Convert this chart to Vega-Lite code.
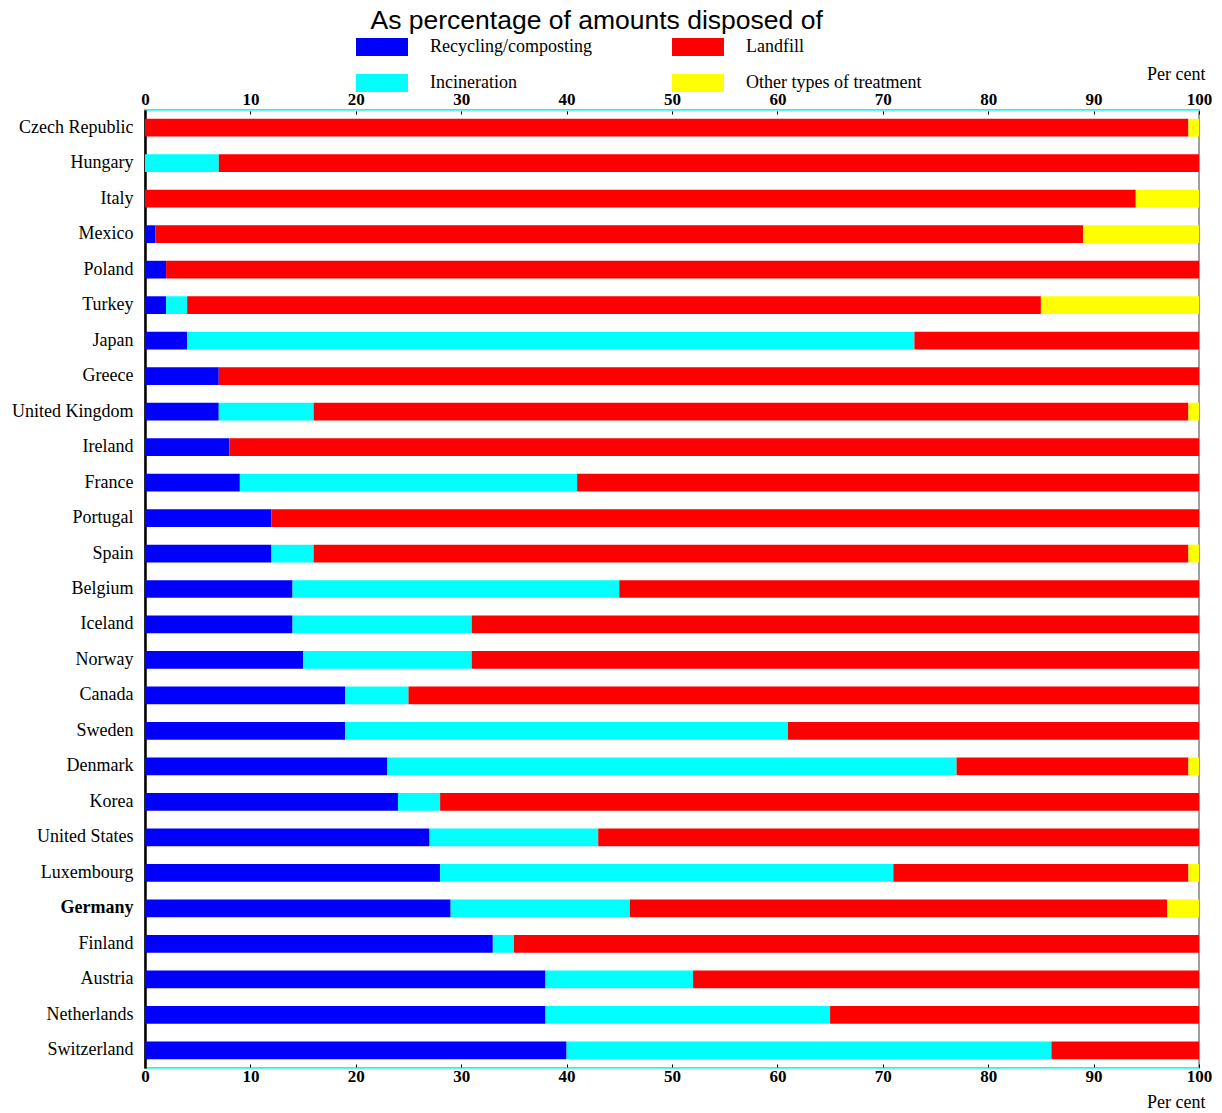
{
  "$schema": "https://vega.github.io/schema/vega-lite/v6.json",
  "autosize": "none",
  "padding": {"left": 145, "top": 110, "right": 23, "bottom": 45},
  "width": 1054,
  "height": 958,
  "background": "white",
  "config": {
    "view": {"stroke": "#808080", "strokeWidth": 1.5},
    "font": "Liberation Serif"
  },
  "title": {
    "text": "As percentage of amounts disposed of",
    "font": "Liberation Sans",
    "fontSize": 26.5,
    "fontWeight": "normal",
    "color": "black",
    "anchor": "start",
    "dx": 359,
    "offset": -13
  },
  "data": {
    "values": [
      {"country": "Czech Republic", "type": "Landfill", "value": 99},
      {"country": "Czech Republic", "type": "Other types of treatment", "value": 1},
      {"country": "Hungary", "type": "Incineration", "value": 7},
      {"country": "Hungary", "type": "Landfill", "value": 93},
      {"country": "Italy", "type": "Landfill", "value": 94},
      {"country": "Italy", "type": "Other types of treatment", "value": 6},
      {"country": "Mexico", "type": "Recycling/composting", "value": 1},
      {"country": "Mexico", "type": "Landfill", "value": 88},
      {"country": "Mexico", "type": "Other types of treatment", "value": 11},
      {"country": "Poland", "type": "Recycling/composting", "value": 2},
      {"country": "Poland", "type": "Landfill", "value": 98},
      {"country": "Turkey", "type": "Recycling/composting", "value": 2},
      {"country": "Turkey", "type": "Incineration", "value": 2},
      {"country": "Turkey", "type": "Landfill", "value": 81},
      {"country": "Turkey", "type": "Other types of treatment", "value": 15},
      {"country": "Japan", "type": "Recycling/composting", "value": 4},
      {"country": "Japan", "type": "Incineration", "value": 69},
      {"country": "Japan", "type": "Landfill", "value": 27},
      {"country": "Greece", "type": "Recycling/composting", "value": 7},
      {"country": "Greece", "type": "Landfill", "value": 93},
      {"country": "United Kingdom", "type": "Recycling/composting", "value": 7},
      {"country": "United Kingdom", "type": "Incineration", "value": 9},
      {"country": "United Kingdom", "type": "Landfill", "value": 83},
      {"country": "United Kingdom", "type": "Other types of treatment", "value": 1},
      {"country": "Ireland", "type": "Recycling/composting", "value": 8},
      {"country": "Ireland", "type": "Landfill", "value": 92},
      {"country": "France", "type": "Recycling/composting", "value": 9},
      {"country": "France", "type": "Incineration", "value": 32},
      {"country": "France", "type": "Landfill", "value": 59},
      {"country": "Portugal", "type": "Recycling/composting", "value": 12},
      {"country": "Portugal", "type": "Landfill", "value": 88},
      {"country": "Spain", "type": "Recycling/composting", "value": 12},
      {"country": "Spain", "type": "Incineration", "value": 4},
      {"country": "Spain", "type": "Landfill", "value": 83},
      {"country": "Spain", "type": "Other types of treatment", "value": 1},
      {"country": "Belgium", "type": "Recycling/composting", "value": 14},
      {"country": "Belgium", "type": "Incineration", "value": 31},
      {"country": "Belgium", "type": "Landfill", "value": 55},
      {"country": "Iceland", "type": "Recycling/composting", "value": 14},
      {"country": "Iceland", "type": "Incineration", "value": 17},
      {"country": "Iceland", "type": "Landfill", "value": 69},
      {"country": "Norway", "type": "Recycling/composting", "value": 15},
      {"country": "Norway", "type": "Incineration", "value": 16},
      {"country": "Norway", "type": "Landfill", "value": 69},
      {"country": "Canada", "type": "Recycling/composting", "value": 19},
      {"country": "Canada", "type": "Incineration", "value": 6},
      {"country": "Canada", "type": "Landfill", "value": 75},
      {"country": "Sweden", "type": "Recycling/composting", "value": 19},
      {"country": "Sweden", "type": "Incineration", "value": 42},
      {"country": "Sweden", "type": "Landfill", "value": 39},
      {"country": "Denmark", "type": "Recycling/composting", "value": 23},
      {"country": "Denmark", "type": "Incineration", "value": 54},
      {"country": "Denmark", "type": "Landfill", "value": 22},
      {"country": "Denmark", "type": "Other types of treatment", "value": 1},
      {"country": "Korea", "type": "Recycling/composting", "value": 24},
      {"country": "Korea", "type": "Incineration", "value": 4},
      {"country": "Korea", "type": "Landfill", "value": 72},
      {"country": "United States", "type": "Recycling/composting", "value": 27},
      {"country": "United States", "type": "Incineration", "value": 16},
      {"country": "United States", "type": "Landfill", "value": 57},
      {"country": "Luxembourg", "type": "Recycling/composting", "value": 28},
      {"country": "Luxembourg", "type": "Incineration", "value": 43},
      {"country": "Luxembourg", "type": "Landfill", "value": 28},
      {"country": "Luxembourg", "type": "Other types of treatment", "value": 1},
      {"country": "Germany", "type": "Recycling/composting", "value": 29},
      {"country": "Germany", "type": "Incineration", "value": 17},
      {"country": "Germany", "type": "Landfill", "value": 51},
      {"country": "Germany", "type": "Other types of treatment", "value": 3},
      {"country": "Finland", "type": "Recycling/composting", "value": 33},
      {"country": "Finland", "type": "Incineration", "value": 2},
      {"country": "Finland", "type": "Landfill", "value": 65},
      {"country": "Austria", "type": "Recycling/composting", "value": 38},
      {"country": "Austria", "type": "Incineration", "value": 14},
      {"country": "Austria", "type": "Landfill", "value": 48},
      {"country": "Netherlands", "type": "Recycling/composting", "value": 38},
      {"country": "Netherlands", "type": "Incineration", "value": 27},
      {"country": "Netherlands", "type": "Landfill", "value": 35},
      {"country": "Switzerland", "type": "Recycling/composting", "value": 40},
      {"country": "Switzerland", "type": "Incineration", "value": 46},
      {"country": "Switzerland", "type": "Landfill", "value": 14}
    ]
  },
  "transform": [
    {"calculate": "indexof(['Recycling/composting', 'Incineration', 'Landfill', 'Other types of treatment'], datum.type)", "as": "stackorder"}
  ],
  "encoding": {
    "y": {
      "field": "country",
      "type": "nominal",
      "sort": null,
      "title": null,
      "scale": {"paddingInner": 0.5, "paddingOuter": 0.25},
      "axis": {
        "ticks": false,
        "domainColor": "black",
        "domainWidth": 2.5,
        "labelFont": "Liberation Serif",
        "labelFontSize": 18,
        "labelColor": "black",
        "labelPadding": 12,
        "labelFontWeight": {"condition": {"test": "datum.value === 'Germany'", "value": "bold"}, "value": "normal"}
      }
    },
    "order": {"field": "stackorder", "type": "quantitative"}
  },
  "layer": [
    {
      "mark": {"type": "bar"},
      "encoding": {
        "x": {
          "field": "value",
          "type": "quantitative",
          "stack": "zero",
          "scale": {"domain": [0, 100], "nice": false},
          "axis": {
            "orient": "top",
            "values": [0, 10, 20, 30, 40, 50, 60, 70, 80, 90, 100],
            "grid": false,
            "domainColor": "#66f5f5",
            "domainWidth": 2,
            "tickColor": "black",
            "tickSize": -4,
            "labelFont": "Liberation Serif",
            "labelFontSize": 17,
            "labelFontWeight": "bold",
            "labelColor": "black",
            "labelPadding": 6,
            "labelFlush": false,
            "title": "Per cent",
            "titleFont": "Liberation Serif",
            "titleFontSize": 18,
            "titleFontWeight": "normal",
            "titleColor": "black",
            "titleAlign": "right",
            "titleBaseline": "alphabetic",
            "titleX": 1060,
            "titleY": -31
          }
        },
        "color": {
          "field": "type",
          "type": "nominal",
          "scale": {
            "domain": ["Recycling/composting", "Landfill", "Incineration", "Other types of treatment"],
            "range": ["#0000ff", "#ff0000", "#00ffff", "#ffff00"]
          },
          "legend": {
            "title": null,
            "orient": "none",
            "legendX": 211,
            "legendY": -89,
            "direction": "horizontal",
            "columns": 2,
            "columnPadding": 80,
            "rowPadding": 1,
            "padding": 0,
            "symbolType": "M-1,-0.346H1V0.346H-1Z",
            "symbolSize": 2704,
            "symbolStrokeWidth": 0,
            "symbolOpacity": 1,
            "labelFont": "Liberation Serif",
            "labelFontSize": 18,
            "labelColor": "black",
            "labelOffset": 22,
            "labelLimit": 400
          }
        }
      }
    },
    {
      "mark": {"type": "bar", "opacity": 0},
      "encoding": {
        "x": {
          "field": "value",
          "type": "quantitative",
          "stack": "zero",
          "scale": {"domain": [0, 100], "nice": false},
          "axis": {
            "orient": "bottom",
            "values": [0, 10, 20, 30, 40, 50, 60, 70, 80, 90, 100],
            "grid": false,
            "domainColor": "#66f5f5",
            "domainWidth": 2,
            "tickColor": "black",
            "tickSize": -4,
            "labelFont": "Liberation Serif",
            "labelFontSize": 17,
            "labelFontWeight": "bold",
            "labelColor": "black",
            "labelPadding": 4,
            "labelFlush": false,
            "title": "Per cent",
            "titleFont": "Liberation Serif",
            "titleFontSize": 18,
            "titleFontWeight": "normal",
            "titleColor": "black",
            "titleAlign": "right",
            "titleBaseline": "alphabetic",
            "titleX": 1060,
            "titleY": 39
          }
        }
      }
    }
  ],
  "resolve": {"axis": {"x": "independent"}}
}
